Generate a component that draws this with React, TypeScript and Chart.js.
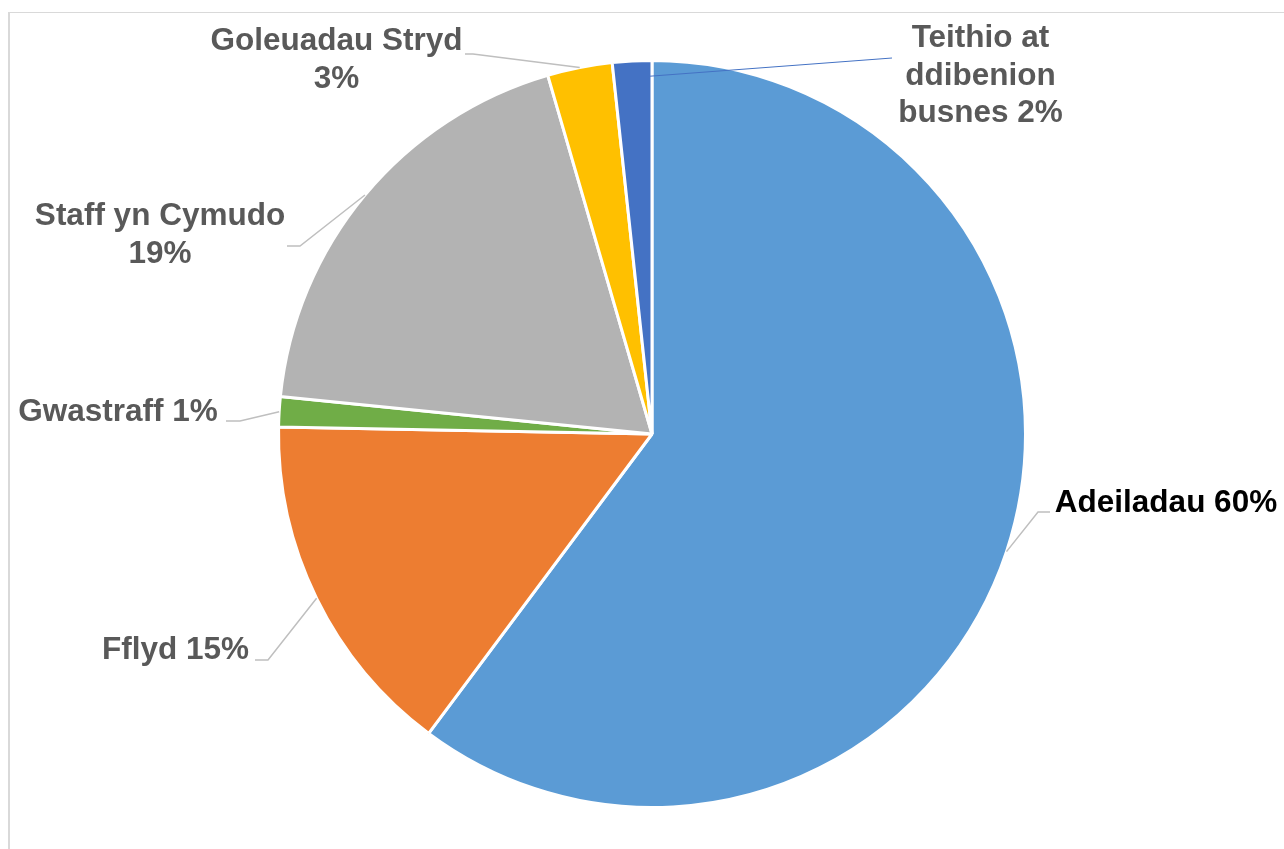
import React, { useEffect, useRef } from "react";
import { Chart, registerables } from "chart.js";

Chart.register(...registerables);

// ---- data ----
const categories = [
  "Adeiladau",
  "Fflyd",
  "Gwastraff",
  "Staff yn Cymudo",
  "Goleuadau Stryd",
  "Teithio at ddibenion busnes",
];
const values = [60.2, 15.1, 1.3, 18.9, 2.8, 1.7];

// ---- styles ----
const sliceColors = ["#5B9BD5", "#ED7D31", "#70AD47", "#B3B3B3", "#FFC000", "#4472C4"];
const labelColors = ["#000000", "#595959", "#595959", "#595959", "#595959", "#595959"];

// label layout: text centre x, first baseline y, words per line, leader start & elbow,
// leader end = point on slice at fraction `frac` of its angle, radius factor `rf`
const labelLayout = [
  { cx: 1166, by: 512, words: [2], sx: 1050, sy: 512, ex: 1038, ey: 512, frac: 0.5, rf: 1.0, lc: "#BFBFBF", lw: 1.5 },
  { cx: 175.5, by: 659, words: [2], sx: 255, sy: 660, ex: 268, ey: 660, frac: 0.5, rf: 1.0, lc: "#BFBFBF", lw: 1.5 },
  { cx: 118, by: 421, words: [2], sx: 226, sy: 421, ex: 240, ey: 421, frac: 0.5, rf: 1.0, lc: "#BFBFBF", lw: 1.5 },
  { cx: 160, by: 225, words: [3, 1], sx: 287, sy: 246, ex: 300, ey: 246, frac: 0.5, rf: 1.0, lc: "#BFBFBF", lw: 1.5 },
  { cx: 336.5, by: 50, words: [2, 1], sx: 465, sy: 54, ex: 473, ey: 54, frac: 0.5, rf: 1.0, lc: "#BFBFBF", lw: 1.5 },
  { cx: 980.5, by: 47, words: [2, 1, 2], sx: 892, sy: 58, ex: 892, ey: 58, frac: 0.95, rf: 0.958, lc: "#4472C4", lw: 1 },
];
const LINE_H = 37.5;
const FONT = "bold 31.5px 'Liberation Sans', Arial, sans-serif";

const labelPlugin = {
  id: "pieLabels",
  afterDraw(chart: any) {
    const ctx = chart.ctx as CanvasRenderingContext2D;
    ctx.save();
    // chart frame
    ctx.fillStyle = "#D9D9D9";
    ctx.fillRect(8, 12, 2, chart.height);
    ctx.fillRect(8, 12, chart.width, 1);

    const meta = chart.getDatasetMeta(0);
    const total = values.reduce((a, b) => a + b, 0);
    meta.data.forEach((arc: any, i: number) => {
      const p = arc.getProps(["x", "y", "startAngle", "endAngle", "outerRadius"], true);
      const L = labelLayout[i];
      const a = p.startAngle + (p.endAngle - p.startAngle) * L.frac;
      const r = p.outerRadius * L.rf;
      const px = p.x + Math.cos(a) * r;
      const py = p.y + Math.sin(a) * r;

      // leader
      ctx.strokeStyle = L.lc;
      ctx.lineWidth = L.lw;
      ctx.beginPath();
      ctx.moveTo(L.sx, L.sy);
      ctx.lineTo(L.ex, L.ey);
      ctx.lineTo(px, py);
      ctx.stroke();

      // text
      const pct = Math.round((values[i] / total) * 100);
      const words = `${categories[i]} ${pct}%`.split(" ");
      const lines: string[] = [];
      let k = 0;
      L.words.forEach((n, j) => {
        const cnt = j === L.words.length - 1 ? words.length - k : n;
        lines.push(words.slice(k, k + cnt).join(" "));
        k += cnt;
      });
      ctx.font = FONT;
      ctx.fillStyle = labelColors[i];
      ctx.textAlign = "center";
      ctx.textBaseline = "alphabetic";
      lines.forEach((t, j) => ctx.fillText(t, L.cx, L.by + j * LINE_H));
    });
    ctx.restore();
  },
};

export default function App() {
  const ref = useRef<HTMLCanvasElement>(null);
  useEffect(() => {
    if (!ref.current) return;
    const chart = new Chart(ref.current, {
      type: "pie",
      data: {
        labels: categories,
        datasets: [
          {
            data: values,
            backgroundColor: sliceColors,
            borderColor: "#FFFFFF",
            borderWidth: 3,
          },
        ],
      },
      options: {
        responsive: false,
        animation: false,
        layout: { padding: { left: 277, right: 257, top: 59, bottom: 40 } },
        plugins: {
          legend: { display: false },
          tooltip: { enabled: false },
        },
      },
      plugins: [labelPlugin],
    });
    return () => chart.destroy();
  }, []);
  return (
    <div style={{ position: "fixed", left: 0, top: 0, width: 1284, height: 849, background: "#FFFFFF" }}>
      <canvas ref={ref} width={1284} height={849} style={{ display: "block" }} />
    </div>
  );
}
